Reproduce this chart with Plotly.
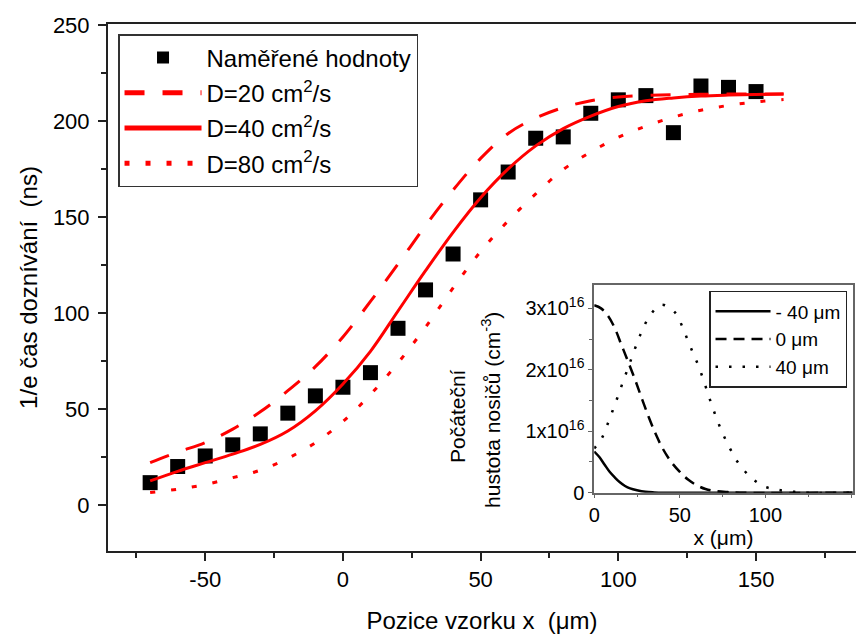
import plotly.graph_objects as go

# ---------------- main chart data ----------------
pos_meas = [-70, -60, -50, -40, -30, -20, -10, 0, 10, 20, 30, 40, 50, 60, 70, 80, 90, 100, 110, 120, 130, 140, 150]
tau_meas = [11.6, 20, 25.5, 31.3, 37, 47.8, 56.8, 61.3, 68.9, 92, 112, 130.7, 158.9, 173.4, 191, 191.7, 204, 211, 213.2, 193.9, 218.2, 217.5, 215.3]

pos_fit = [-70, -60, -50, -40, -30, -20, -10, 0, 10, 20, 30, 40, 50, 60, 70, 80, 90, 100, 110, 120, 130, 140, 150, 160]
tau_D20 = [22, 27.5, 32.5, 39.5, 48.5, 59.5, 72, 87.5, 106, 125.5, 145.5, 164, 180.5, 193.5, 201.5, 207, 210.5, 212.5, 213.3, 213.7, 213.9, 214, 214, 214]
tau_D40 = [12.5, 17.5, 22, 26.5, 31.5, 38.5, 49, 63, 80, 101, 122, 142, 160, 175, 187, 196, 202.5, 207.5, 210.5, 212, 213, 213.5, 213.8, 214]
tau_D80 = [6.5, 8.2, 10.6, 14.2, 18.1, 24.3, 32.4, 43.5, 57.5, 74, 92.6, 113, 132, 148, 162, 174.7, 183.8, 191.5, 197.3, 202, 205.6, 208.1, 209.9, 211.2]

x_tickvals = [-50, 0, 50, 100, 150]
x_ticktext = ["-50", "0", "50", "100", "150"]

# ---------------- inset data (units of 1e16 cm^-3) ----------------
x_m40 = [0, 3, 6, 9, 12, 15, 18, 21, 25, 30, 35, 40, 60, 100, 151]
n_m40 = [0.67, 0.58, 0.46, 0.34, 0.25, 0.17, 0.11, 0.07, 0.04, 0.015, 0.005, 0, 0, 0, 0]

x_0 = [0, 4, 8, 12, 16, 20, 24, 28, 32, 36, 40, 45, 50, 55, 60, 65, 70, 78, 85, 151]
n_0 = [3.05, 3.0, 2.88, 2.68, 2.40, 2.12, 1.83, 1.52, 1.22, 0.95, 0.72, 0.50, 0.34, 0.21, 0.12, 0.06, 0.03, 0.01, 0, 0]

x_40 = [0, 4.3, 7.6, 10.7, 13.6, 16.5, 19.5, 25.1, 28.2, 32.5, 39.3, 47.3, 51.5, 54.8, 58.1, 61.1, 64, 66.7, 69.4, 72.3, 75.6, 79.5, 84, 90.8, 98.6, 107, 115, 125, 151]
n_40 = [0.72, 0.88, 1.10, 1.33, 1.55, 1.78, 2.01, 2.44, 2.65, 2.88, 3.06, 2.93, 2.70, 2.47, 2.25, 2.05, 1.82, 1.59, 1.37, 1.15, 0.93, 0.71, 0.49, 0.27, 0.11, 0.05, 0.02, 0, 0]

inset_yticks = [0, 1, 2, 3]
inset_yticktext = ["0", "1x10<sup>16</sup>", "2x10<sup>16</sup>", "3x10<sup>16</sup>"]

RED = "#ff0000"
FONT = "Liberation Sans, Arial, sans-serif"

fig = go.Figure()

fig.add_trace(go.Scatter(x=pos_meas, y=tau_meas, mode="markers", name="Naměřené hodnoty",
                         marker=dict(symbol="square", size=15, color="black"),
                         legendgroup="a", legend="legend"))
fig.add_trace(go.Scatter(x=pos_fit, y=tau_D20, mode="lines", name="D=20 cm<sup>2</sup>/s",
                         line=dict(color=RED, width=3, dash="20px,18px", shape="spline"), legendgroup="b", legend="legend"))
fig.add_trace(go.Scatter(x=pos_fit, y=tau_D40, mode="lines", name="D=40 cm<sup>2</sup>/s",
                         line=dict(color=RED, width=3, shape="spline"), legendgroup="c", legend="legend"))
fig.add_trace(go.Scatter(x=pos_fit, y=tau_D80, mode="lines", name="D=80 cm<sup>2</sup>/s",
                         line=dict(color=RED, width=3, dash="5px,16px", shape="spline"), legendgroup="d", legend="legend"))

fig.add_trace(go.Scatter(x=x_m40, y=n_m40, mode="lines", name="- 40 μm", xaxis="x2", yaxis="y2",
                         line=dict(color="black", width=2.5, shape="spline"), legend="legend2", legendgroup="e"))
fig.add_trace(go.Scatter(x=x_0, y=n_0, mode="lines", name="0 μm", xaxis="x2", yaxis="y2",
                         line=dict(color="black", width=2.5, dash="11px,7px", shape="spline"), legend="legend2", legendgroup="f"))
fig.add_trace(go.Scatter(x=x_40, y=n_40, mode="lines", name="40 μm", xaxis="x2", yaxis="y2",
                         line=dict(color="black", width=2.5, dash="2.5px,11px", shape="spline"), legend="legend2", legendgroup="g"))

axis_common = dict(showgrid=False, zeroline=False, showline=True)

fig.update_layout(
    width=856, height=641,
    margin=dict(l=108, r=0, t=24, b=90),
    paper_bgcolor="white", plot_bgcolor="white",
    font=dict(family=FONT, color="black"),
    xaxis=dict(**axis_common, domain=[0, 1], range=[-85.3, 186.3], linecolor="#222", linewidth=2,
               mirror=True, ticks="outside", ticklen=8, tickwidth=1.5, tickcolor="#222",
               tickvals=x_tickvals, ticktext=x_ticktext, tickfont=dict(size=22),
               minor=dict(ticks="outside", ticklen=5, tickwidth=1.5, tickcolor="#222", tick0=25, dtick=50),
               title=dict(text="Pozice vzorku x \u00a0(μm)", font=dict(size=24), standoff=21)),
    yaxis=dict(**axis_common, domain=[0, 1], range=[-24, 250.5], linecolor="#222", linewidth=2,
               ticks="outside", ticklen=8, tickwidth=1.5, tickcolor="#222", ticklabelstandoff=4,
               tick0=0, dtick=50, tickfont=dict(size=22),
               minor=dict(ticks="outside", ticklen=5, tickwidth=1.5, tickcolor="#222", tick0=25, dtick=50),
               title=dict(text="1/e čas doznívání \u00a0(ns)", font=dict(size=24), standoff=8)),
    xaxis2=dict(**axis_common, domain=[0.650, 0.9956], range=[0, 151], anchor="y2", mirror=True,
                linecolor="#666", linewidth=1.5, ticks="outside", ticklen=4, tickwidth=1, tickcolor="#666",
                tick0=0, dtick=50, tickfont=dict(size=20),
                minor=dict(ticks="outside", ticklen=3, tickwidth=1, tickcolor="#666", tick0=25, dtick=50),
                title=dict(text="x (μm)", font=dict(size=21), standoff=4)),
    yaxis2=dict(**axis_common, domain=[0.1106, 0.5047], range=[0, 3.38], anchor="x2", mirror=True,
                linecolor="#666", linewidth=1.5, ticks="outside", ticklen=4, tickwidth=1, tickcolor="#666",
                tickvals=inset_yticks, ticktext=inset_yticktext, tickfont=dict(size=20),
                minor=dict(ticks="outside", ticklen=3, tickwidth=1, tickcolor="#666", tickvals=[0.5, 1.5, 2.5])),
    legend=dict(x=0.0134, y=0.981, xanchor="left", yanchor="top", bgcolor="white",
                bordercolor="#333", borderwidth=1.5, font=dict(size=24), traceorder="grouped",
                tracegroupgap=1, itemwidth=77, itemsizing="constant"),
    legend2=dict(x=0.8035, y=0.4934, xanchor="left", yanchor="top", bgcolor="white",
                 bordercolor="#222", borderwidth=1.5, font=dict(size=19), traceorder="grouped",
                 tracegroupgap=0, itemwidth=55),
    annotations=[
        dict(text="Počáteční", xref="paper", yref="paper", x=0.4679, y=0.2562, textangle=-90,
             showarrow=False, font=dict(size=21), xanchor="center", yanchor="middle"),
        dict(text="hustota nosičů (cm<sup>-3</sup>)", xref="paper", yref="paper", x=0.512, y=0.2676,
             textangle=-90, showarrow=False, font=dict(size=21), xanchor="center", yanchor="middle"),
    ],
)

fig.write_html("out.html")
